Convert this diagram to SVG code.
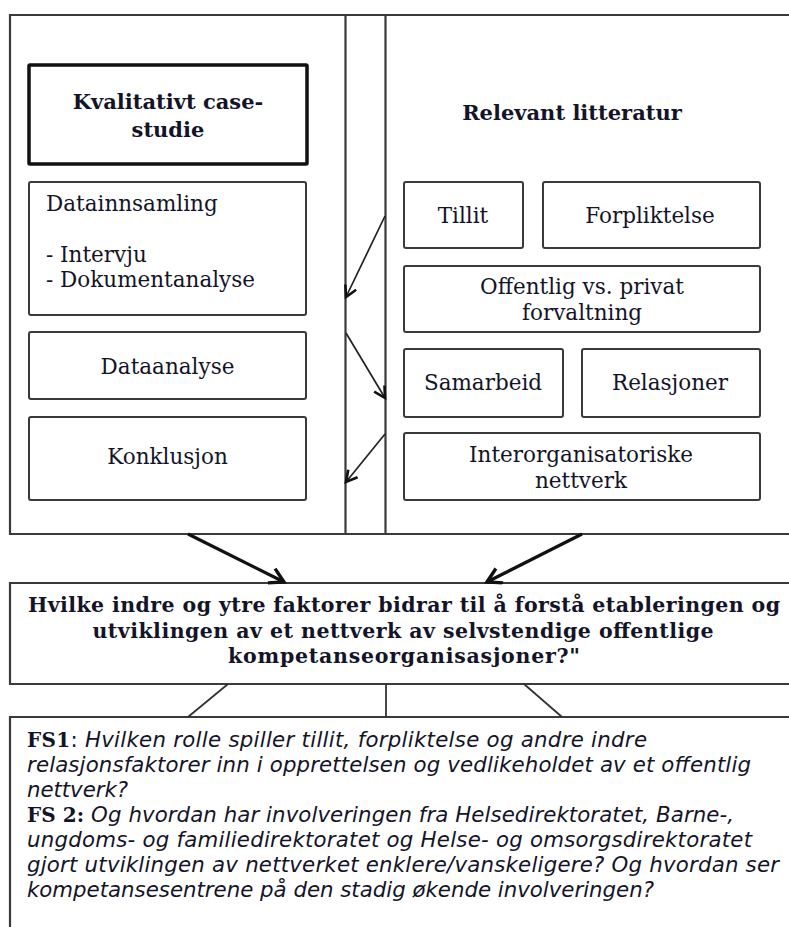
<svg xmlns="http://www.w3.org/2000/svg" width="789" height="927" viewBox="0 0 789 927">
<defs>
<style>
.box{fill:#fff;stroke:#3a3a3a;stroke-width:2}
.thick{fill:#fff;stroke:#111;stroke-width:3.5}
.frame{fill:none;stroke:#3a3a3a;stroke-width:2.2}
.lbl{font-family:"DejaVu Serif","Liberation Serif",serif;font-size:21.5px;fill:#141428}
.b{font-family:"DejaVu Serif","Liberation Serif",serif;font-weight:bold;font-size:21px;fill:#141428}
.q{font-size:20.5px}
.fs{font-family:"DejaVu Sans","Liberation Sans",sans-serif;font-style:italic;font-size:21.3px;fill:#141428}
.fsb{font-family:"DejaVu Serif","Liberation Serif",serif;font-weight:bold;font-style:normal;font-size:20px}
.fsn{font-style:normal}
.c{text-anchor:middle}
.thin{fill:none;stroke:#222;stroke-width:1.7}
.big{fill:none;stroke:#111;stroke-width:3.2}
.plain{fill:none;stroke:#333;stroke-width:1.8}
</style>
<marker id="ah" markerUnits="userSpaceOnUse" markerWidth="16" markerHeight="16" refX="13" refY="7" orient="auto">
<path d="M2,1 L13,7 L2,13" fill="none" stroke="#111" stroke-width="2.6"/>
</marker>
<marker id="ahb" markerUnits="userSpaceOnUse" markerWidth="20" markerHeight="20" refX="16" refY="9" orient="auto">
<path d="M2,1 L16,9 L2,17" fill="none" stroke="#111" stroke-width="3.4"/>
</marker>
</defs>
<rect width="789" height="927" fill="#fff"/>

<g id="frame">
<path class="frame" d="M789,15 H10 V534 H789"/>
<line class="frame" x1="345.5" y1="15" x2="345.5" y2="534"/>
<line class="frame" x1="385.5" y1="15" x2="385.5" y2="534"/>
</g>

<g id="kvalitativt">
<rect class="thick" x="29" y="65" width="278" height="99" rx="1"/>
<text class="b c" x="168" y="109">Kvalitativt case-</text>
<text class="b c" x="168" y="137">studie</text>
</g>

<g id="datainnsamling">
<rect class="box" x="29" y="182" width="277" height="133" rx="2"/>
<text class="lbl" x="46" y="211">Datainnsamling</text>
<text class="lbl" x="46" y="262">- Intervju</text>
<text class="lbl" x="46" y="287">- Dokumentanalyse</text>
</g>

<g id="dataanalyse">
<rect class="box" x="29" y="332" width="277" height="67" rx="2"/>
<text class="lbl c" x="167.5" y="374">Dataanalyse</text>
</g>

<g id="konklusjon">
<rect class="box" x="29" y="417" width="277" height="83" rx="2"/>
<text class="lbl c" x="167.5" y="464">Konklusjon</text>
</g>

<g id="relevant">
<text class="b c" x="572" y="120">Relevant litteratur</text>
</g>

<g id="tillit">
<rect class="box" x="404" y="182" width="119" height="66" rx="2"/>
<text class="lbl c" x="463" y="223">Tillit</text>
</g>

<g id="forpliktelse">
<rect class="box" x="543" y="182" width="217" height="66" rx="2"/>
<text class="lbl c" x="650" y="223">Forpliktelse</text>
</g>

<g id="offentlig">
<rect class="box" x="404" y="266" width="356" height="66" rx="2"/>
<text class="lbl c" x="582" y="294">Offentlig vs. privat</text>
<text class="lbl c" x="582" y="320">forvaltning</text>
</g>

<g id="samarbeid">
<rect class="box" x="404" y="349" width="159" height="68" rx="2"/>
<text class="lbl c" x="483" y="390">Samarbeid</text>
</g>

<g id="relasjoner">
<rect class="box" x="582" y="349" width="178" height="68" rx="2"/>
<text class="lbl c" x="670" y="390">Relasjoner</text>
</g>

<g id="interorg">
<rect class="box" x="404" y="433" width="356" height="67" rx="2"/>
<text class="lbl c" x="581" y="462">Interorganisatoriske</text>
<text class="lbl c" x="581" y="488">nettverk</text>
</g>

<g id="question">
<path class="frame" d="M789,583 H10 V684 H789" fill="#fff"/>
<text class="b q c" x="404" y="612" textLength="752">Hvilke indre og ytre faktorer bidrar til å forstå etableringen og</text>
<text class="b q c" x="403" y="638" textLength="621">utviklingen av et nettverk av selvstendige offentlige</text>
<text class="b q c" x="404" y="663" textLength="352">kompetanseorganisasjoner?"</text>
</g>

<g id="fs">
<path class="frame" d="M789,717 H10 V927"/>
<text class="fs" x="27" y="747" textLength="620"><tspan class="fsb">FS1</tspan><tspan class="fsn">: </tspan>Hvilken rolle spiller tillit, forpliktelse og andre indre</text>
<text class="fs" x="27" y="772" textLength="724">relasjonsfaktorer inn i opprettelsen og vedlikeholdet av et offentlig</text>
<text class="fs" x="27" y="797" textLength="101">nettverk?</text>
<text class="fs" x="27" y="822" textLength="707"><tspan class="fsb">FS 2:</tspan> Og hvordan har involveringen fra Helsedirektoratet, Barne-,</text>
<text class="fs" x="27" y="847" textLength="725">ungdoms- og familiedirektoratet og Helse- og omsorgsdirektoratet</text>
<text class="fs" x="27" y="872" textLength="752">gjort utviklingen av nettverket enklere/vanskeligere? Og hvordan ser</text>
<text class="fs" x="27" y="897" textLength="627">kompetansesentrene på den stadig økende involveringen?</text>
</g>

<g id="connectors">
<line class="thin" x1="385" y1="216" x2="346" y2="297" marker-end="url(#ah)"/>
<line class="thin" x1="346" y1="333" x2="385" y2="398" marker-end="url(#ah)"/>
<line class="thin" x1="385" y1="434" x2="346" y2="482" marker-end="url(#ah)"/>
<line class="big" x1="188" y1="534" x2="284" y2="582" marker-end="url(#ahb)"/>
<line class="big" x1="582" y1="534" x2="487" y2="582" marker-end="url(#ahb)"/>
<line class="plain" x1="228" y1="684" x2="188" y2="717"/>
<line class="plain" x1="386" y1="684" x2="386" y2="717"/>
<line class="plain" x1="524" y1="684" x2="562" y2="717"/>
</g>
</svg>
